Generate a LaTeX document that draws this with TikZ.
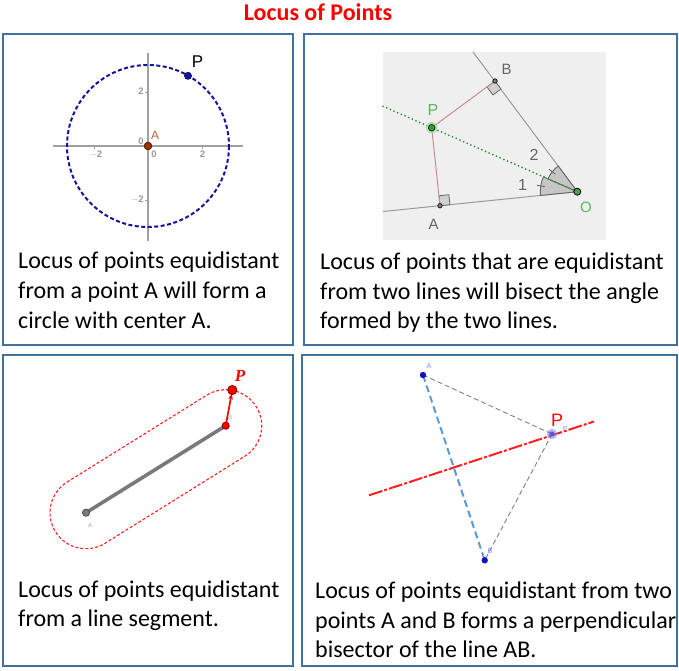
\documentclass[tikz,border=0pt]{standalone}
\usepackage{fontspec}
\setmainfont{Carlito}
\newfontfamily\ggb{Liberation Sans}
\newfontfamily\ggbserif{Liberation Serif}
\usetikzlibrary{calc,arrows.meta}
\definecolor{panelc}{HTML}{41719C}
\definecolor{titlec}{HTML}{FF0000}
\definecolor{navyc}{HTML}{14149A}
\definecolor{axisc}{HTML}{A0A0A0}
\definecolor{tickc}{HTML}{9A9A9A}
\definecolor{brownc}{HTML}{993300}
\definecolor{brownl}{HTML}{C0603A}
\definecolor{bgc}{HTML}{EFEFEF}
\definecolor{linec}{HTML}{9A9A9A}
\definecolor{pinkc}{HTML}{C89090}
\definecolor{greenc}{HTML}{3A963A}
\definecolor{greenl}{HTML}{5CB85C}
\definecolor{labgray}{HTML}{666666}
\definecolor{sectc}{HTML}{C6C6C6}
\definecolor{segc}{HTML}{7A7A7A}
\definecolor{redc}{HTML}{FF2020}
\definecolor{blued}{HTML}{5B9BD5}
\definecolor{blueP}{HTML}{1010CC}
\definecolor{bluel}{HTML}{8080FF}
\begin{document}
\begin{tikzpicture}[x=1pt,y=-1pt,
  panelbox/.style={draw=panelc,line width=1.3pt},
  bodytext/.style={anchor=base west,inner sep=0pt,font=\fontsize{24}{30}\selectfont},
  ticklab/.style={inner sep=0pt,text=tickc,font=\ggb\bfseries\fontsize{9.5}{9.5}\selectfont},
  ggblab/.style={inner sep=0pt,font=\ggb\fontsize{15}{15}\selectfont},
  tinylab/.style={inner sep=0pt,font=\ggb\fontsize{6}{6}\selectfont},
  rasq/.style={fill=black!18,draw=black!60,line width=0.8pt},
  sector/.style={fill=sectc,draw=black!60,line width=0.9pt}]
\useasboundingbox (0,0) rectangle (679,670);
% title
\node[anchor=base,inner sep=0pt,text=titlec,font=\bfseries\fontsize{24}{24}\selectfont] (title) at (318,20) {Locus of Points};
% panels
\draw[panelbox] (3,34) rectangle (293,345);
\draw[panelbox] (304,34) rectangle (677,345);
\draw[panelbox] (3,355) rectangle (293,666);
\draw[panelbox] (302,355) rectangle (677,666);

% ---------- panel 1 : circle ----------
\coordinate (C) at (148,146);
\coordinate (xl) at (53,146); \coordinate (xr) at (243,146);
\coordinate (yt) at (148,53); \coordinate (yb) at (148,241);
\draw[axisc,line width=1.3pt] (xl) -- (xr);
\draw[axisc,line width=1.3pt] (yt) -- (yb);
\foreach \t in {-54,54} { \draw[axisc,line width=1pt] ($(C)+(\t,0)$) -- ++(0,3); }
\foreach \t in {-54,54} { \draw[axisc,line width=1pt] ($(C)+(0,\t)$) -- ++(-3,0); }
\node[ticklab] (xm2) at (96,154.5) {$-$2};
\node[ticklab] (x0) at (154,154.5) {0};
\node[ticklab] (x2) at (202.5,154.5) {2};
\node[ticklab] (y2) at (141,91.5) {2};
\node[ticklab] (ym2) at (137.5,199.5) {$-$2};
\node[ticklab] (y0) at (141,141.5) {0};
\draw[navyc,line width=2pt,dash pattern=on 4pt off 2.5pt] (C) circle[radius=81];
\coordinate (P1) at (188,75.8);
\fill[navyc,draw=navyc!60!black,line width=0.6pt] (P1) circle[radius=3.6];
\node[ggblab,font=\ggb\fontsize{17}{17}\selectfont] (P1l) at (197.5,61.5) {P};
\fill[brownc,draw=brownc!50!black,line width=0.8pt] (C) circle[radius=3.8];
\node[inner sep=0pt,text=brownl,font=\ggb\fontsize{12}{12}\selectfont] (A1l) at (155,135) {A};
\node[bodytext] (t1a) at (18,268) {Locus of points equidistant};
\node[bodytext] (t1b) at (18,298) {from a point A will form a};
\node[bodytext] (t1c) at (18,328) {circle with center A.};

% ---------- panel 2 : angle bisector ----------
\fill[bgc] (383,52) rectangle (606,240);
\coordinate (O) at (577.3,191.7);
\coordinate (B2) at (495,81);
\coordinate (A2) at (440,205.7);
\coordinate (P2) at (431.7,127.7);
\coordinate (Bend) at (473,52);
\coordinate (Aend) at (383,211.5);
\coordinate (Send) at (383,106.3);
\draw[linec,line width=1pt] (O) -- (Bend);
\draw[linec,line width=1pt] (O) -- (Aend);
\filldraw[sector] (O) -- ++(174.2:37) arc[start angle=174.2,end angle=203.7,radius=37] -- cycle;
\filldraw[sector] (O) -- ++(203.7:32) arc[start angle=203.7,end angle=233.4,radius=32] -- cycle;
\draw[black!60,line width=0.9pt] (O) ++(189:33) -- ++(189:8);
\draw[black!60,line width=0.9pt] (O) ++(218.5:28) -- ++(218.5:8);
\coordinate (a1) at ($(A2)!10pt!(O)$);
\coordinate (a2) at ($(A2)!10pt!(P2)$);
\coordinate (a3) at ($(a1)+(a2)-(A2)$);
\filldraw[rasq] (A2) -- (a1) -- (a3) -- (a2) -- cycle;
\coordinate (b1) at ($(B2)!10pt!(O)$);
\coordinate (b2) at ($(B2)!10pt!(P2)$);
\coordinate (b3) at ($(b1)+(b2)-(B2)$);
\filldraw[rasq] (B2) -- (b1) -- (b3) -- (b2) -- cycle;
\draw[pinkc,line width=1pt] (P2) -- (B2);
\draw[pinkc,line width=1pt] (P2) -- (A2);
\draw[greenc,line width=2pt,line cap=round,dash pattern=on 0pt off 4pt] (Send) -- (O);
\fill[green!45!black!30!white,opacity=0.8] (P2) circle[radius=5.8];
\filldraw[fill=greenc,draw=green!30!black,line width=0.8pt] (P2) circle[radius=3.3];
\filldraw[fill=greenc!90!white,draw=black,line width=0.8pt] (O) circle[radius=3.5];
\filldraw[fill=black!50,draw=black!90,line width=0.8pt] (A2) circle[radius=2.2];
\filldraw[fill=black!50,draw=black!90,line width=0.8pt] (B2) circle[radius=2.2];
\node[ggblab,text=labgray] (B2l) at (506.5,69) {B};
\node[ggblab,text=labgray] (A2l) at (433.5,224) {A};
\node[ggblab,text=greenl,font=\ggb\fontsize{16}{16}\selectfont] (P2l) at (433,110) {P};
\node[ggblab,text=greenl] (O2l) at (586,207) {O};
\node[ggblab,text=labgray,font=\ggb\fontsize{16}{16}\selectfont] (one) at (522.5,184.5) {1};
\node[ggblab,text=labgray,font=\ggb\fontsize{16}{16}\selectfont] (two) at (534,155) {2};
\node[bodytext] (t2a) at (320,269) {Locus of points that are equidistant};
\node[bodytext] (t2b) at (320,299) {from two lines will bisect the angle};
\node[bodytext] (t2c) at (320,328) {formed by the two lines.};

% ---------- panel 3 : segment ----------
\coordinate (A3) at (86,512.7);
\coordinate (B3) at (225.7,425.7);
\coordinate (P3) at (232.3,390);
\begin{scope}[shift={(A3)},rotate=31.9]
  \draw[redc,line width=1.1pt,dash pattern=on 3pt off 2pt]
    (0,-36) -- (164.6,-36) arc[start angle=-90,end angle=90,radius=36]
    -- (0,36) arc[start angle=90,end angle=270,radius=36] -- cycle;
\end{scope}
\draw[segc,line width=3.6pt] (A3) -- (B3);
\filldraw[fill=segc,draw=black!70,line width=0.8pt] (A3) circle[radius=3.6];
\draw[red,line width=1.7pt,-{Stealth[length=6pt,width=4.5pt]},shorten >=3.5pt] (B3) -- (P3);
\filldraw[fill=red,draw=red!50!black,line width=0.8pt] (B3) circle[radius=3.6];
\filldraw[fill=red,draw=red!50!black,line width=0.8pt] (P3) circle[radius=4.6];
\node[inner sep=0pt,text=red,font=\ggbserif\bfseries\itshape\fontsize{17}{17}\selectfont] (P3l) at (240,375.5) {P};
\node[tinylab,text=black!35] (A3l) at (90,525) {A};
\node[tinylab,text=black!35] (B3l) at (230,417) {B};
\node[bodytext] (t3a) at (18,597) {Locus of points equidistant};
\node[bodytext] (t3b) at (18,626) {from a line segment.};

% ---------- panel 4 : perpendicular bisector ----------
\coordinate (A4) at (423,375);
\coordinate (B4) at (484.7,560.3);
\coordinate (P4) at (552,434);
\coordinate (L1) at (369,495.3);
\coordinate (L2) at (594,421.5);
\draw[black!50,line width=0.9pt,dash pattern=on 5pt off 3pt] (A4) -- (P4);
\draw[black!50,line width=0.9pt,dash pattern=on 5pt off 3pt] (P4) -- (B4);
\draw[blued,line width=2pt,dash pattern=on 7pt off 4pt] (A4) -- (B4);
\draw[redc,line width=2pt,dash pattern=on 14pt off 2pt on 3pt off 2pt] (L1) -- (L2);
\fill[bluel,opacity=0.55] (P4) circle[radius=5.2];
\fill[blueP!70!white] (P4) circle[radius=2.6];
\fill[blueP] (A4) circle[radius=3.2];
\fill[blueP] (B4) circle[radius=3.2];
\node[inner sep=0pt,text=red,font=\ggb\fontsize{18}{18}\selectfont] (P4l) at (557,420) {P};
\node[tinylab,text=bluel] (P4s) at (565,428) {P};
\node[tinylab,text=bluel,font=\ggb\fontsize{7}{7}\selectfont] (A4l) at (429,366) {A};
\node[tinylab,text=bluel,font=\ggb\fontsize{7}{7}\selectfont] (B4l) at (490,551) {B};
\node[bodytext] (t4a) at (315,598) {Locus of points equidistant from two};
\node[bodytext] (t4b) at (315,628) {points A and B forms a perpendicular};
\node[bodytext] (t4c) at (315,657) {bisector of the line AB.};
\end{tikzpicture}
\end{document}
